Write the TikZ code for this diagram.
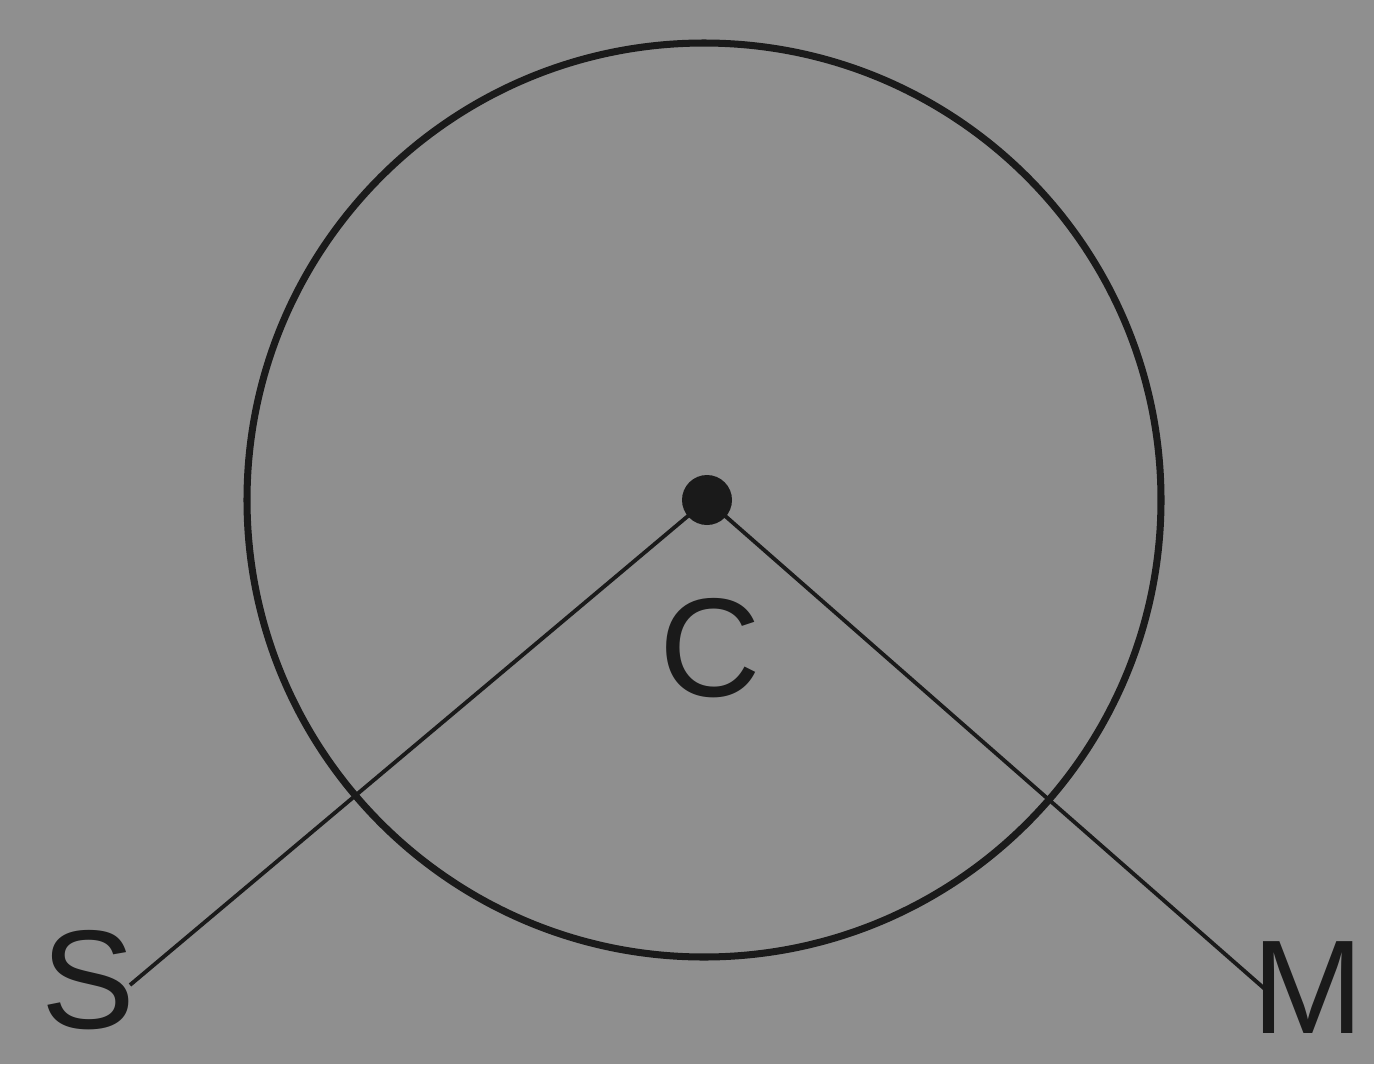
\documentclass[tikz,border=0pt]{standalone}
\usepackage{fontspec}
\setmainfont{Liberation Sans}
\usepackage{xcolor}
\usetikzlibrary{positioning}
\definecolor{paper}{HTML}{8F8F8F}
\definecolor{ink}{HTML}{1A1A1A}
\tikzset{
  ring/.style={draw=ink,line width=2pt},
  ray/.style={draw=ink,line width=1.1pt},
  hub/.style={circle,fill=ink,inner sep=0pt,minimum size=5mm},
  lbl/.style={text=ink,font=\fontsize{40}{42}\selectfont,inner sep=0pt}
}
\begin{document}
\begin{tikzpicture}
  \fill[paper] (0,0) rectangle (13.74,10.64);
  \useasboundingbox (0,0) rectangle (13.74,10.64);
  \draw[ring] (7.04,5.64) circle (4.57);
  \node[hub] (c) at (7.07,5.64) {};
  \coordinate (s) at (1.30,0.79);
  \coordinate (m) at (12.66,0.74);
  \draw[ray] (c.center) -- (s);
  \draw[ray] (c.center) -- (m);
  \node[lbl] (clbl) at (7.10,4.16) {C};
  \node[lbl] (slbl) at (0.88,0.84) {S};
  \node[lbl,font=\fontsize{38}{40}\selectfont] (mlbl) at (13.08,0.76) {M};
\end{tikzpicture}
\end{document}
